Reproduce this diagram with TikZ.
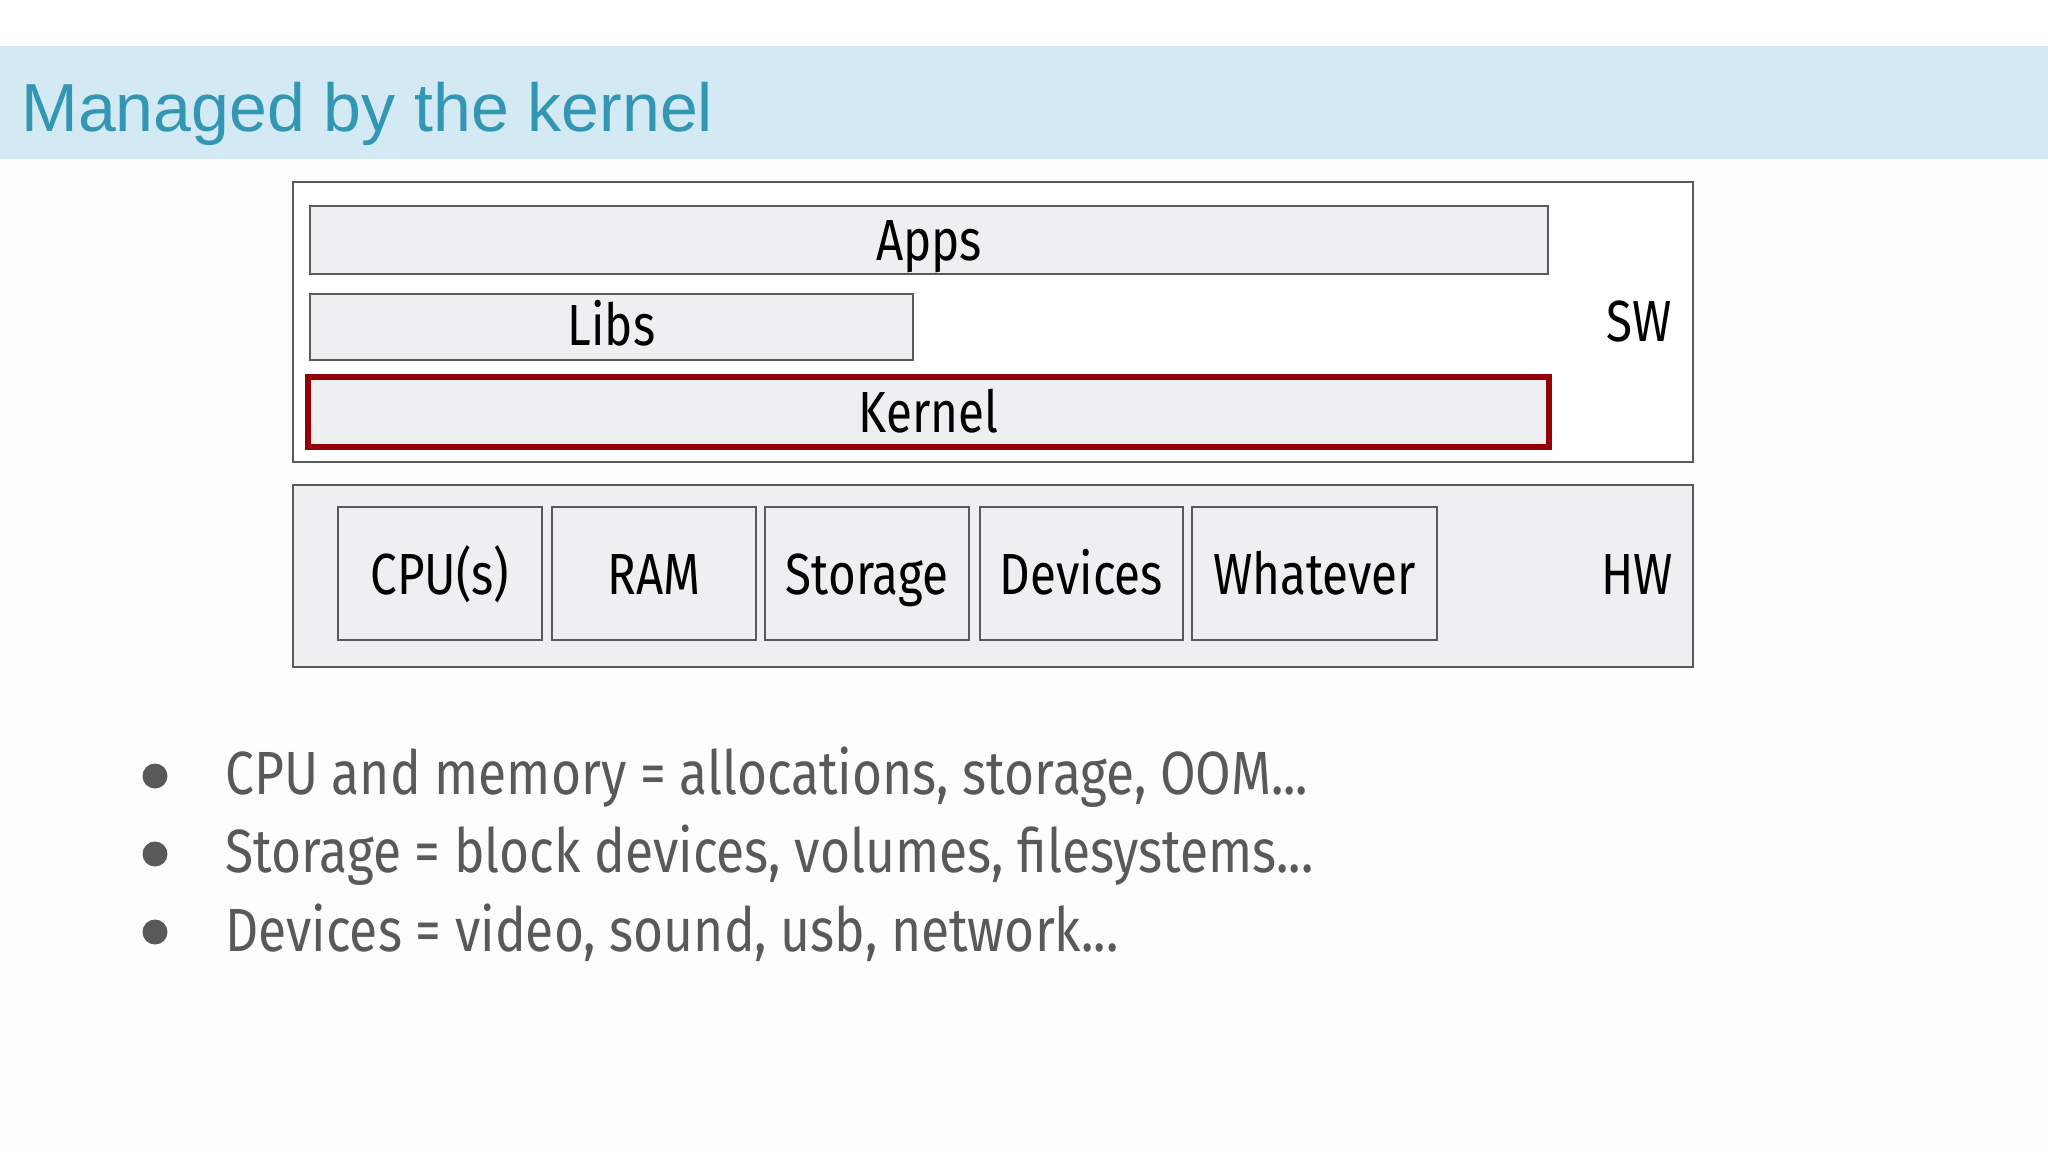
\documentclass[tikz,border=0pt]{standalone}
\usepackage{fontspec}
\newfontfamily\titlefont{Liberation Sans}
\newfontfamily\boxfont[FakeStretch=0.82]{Fira Sans}
\newfontfamily\bulfont[FakeStretch=0.845]{Fira Sans}
\definecolor{bandblue}{HTML}{D3E9F4}
\definecolor{titleteal}{HTML}{3396B3}
\definecolor{boxfill}{HTML}{EFEEF0}
\definecolor{boxline}{HTML}{5A5A5A}
\definecolor{kernred}{HTML}{950008}
\definecolor{bullgray}{HTML}{595959}
\definecolor{pagebg}{HTML}{FDFDFD}
\begin{document}
\begin{tikzpicture}[x=0.5pt,y=-0.5pt,
  layer/.style={draw=boxline,line width=1.2pt,fill=boxfill},
  lbl/.style={font=\boxfont\fontsize{29}{32}\selectfont,text=black,anchor=base,inner sep=0pt},
  bul/.style={font=\bulfont\fontsize{30.5}{34}\selectfont,text=bullgray,anchor=base west,inner sep=0pt},
  dot/.style={circle,fill=bullgray,minimum size=12.5pt,inner sep=0pt}]
\useasboundingbox (0,0) rectangle (2048,1152);
\fill[pagebg] (0,0) rectangle (2048,1152);
\fill[white] (0,0) rectangle (2048,46);
\fill[bandblue] (0,46) rectangle (2048,159);
\node[font=\titlefont\fontsize{34}{40}\selectfont,text=titleteal,anchor=base west,inner sep=0pt] (title) at (21,131) {Managed by the kernel};
% SW
\draw[boxline,line width=1.2pt,fill=white] (293,182) rectangle (1693,462);
\node[draw=boxline,line width=1.2pt,fill=boxfill,minimum width=619pt,minimum height=34pt,inner sep=0pt] (apps) at (929,240) {};
\node[lbl] (appst) at (929,260) {Apps};
\node[draw=boxline,line width=1.2pt,fill=boxfill,minimum width=301.5pt,minimum height=33pt,inner sep=0pt] (libs) at (611.5,327) {};
\node[lbl] (libst) at (611.5,345) {Libs};
\node[draw=kernred,line width=2.6pt,fill=boxfill,minimum width=620.5pt,minimum height=35pt,inner sep=0pt] (kern) at (928.5,412) {};
\node[lbl] (kernt) at (928.5,432) {Kernel};
\node[lbl] (sw) at (1639,341) {SW};
% HW
\draw[boxline,line width=1.2pt,fill=boxfill] (293,485) rectangle (1693,667);
\foreach \nm/\xa/\xb/\tx in {cpu/338/542/CPU(s),ram/552/756/RAM,sto/765/969/Storage,dev/980/1183/Devices,wha/1192/1437/Whatever}{
  \draw[boxline,line width=1.2pt,fill=boxfill] (\xa,507) rectangle (\xb,640);
  \node[lbl] (\nm) at ({(\xa+\xb)/2},594) {\tx};
}
\node[lbl] (hw) at (1637,594) {HW};
% bullets
\node[dot] (d1) at (155,776) {};
\node[dot] (d2) at (155,854) {};
\node[dot] (d3) at (155,932) {};
\node[bul] (b1) at (225,794) {CPU and memory = allocations, storage, OOM...};
\node[bul] (b2) at (225,872) {Storage = block devices, volumes, filesystems...};
\node[bul] (b3) at (225,951) {Devices = video, sound, usb, network...};
\end{tikzpicture}
\end{document}
